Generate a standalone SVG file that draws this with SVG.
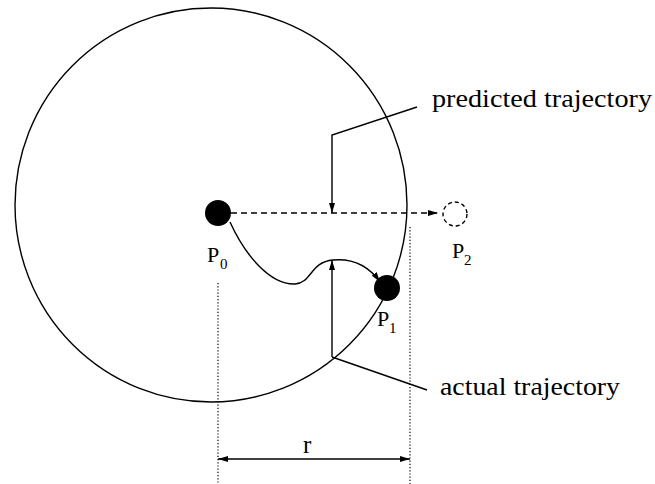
<svg xmlns="http://www.w3.org/2000/svg" width="655" height="484" viewBox="0 0 655 484">
<defs>
<marker id="ah" viewBox="0 0 10 6" refX="10" refY="3" markerWidth="10" markerHeight="6" markerUnits="userSpaceOnUse" orient="auto-start-reverse">
<path d="M0,0 L10,3 L0,6 Z" fill="#000"/>
</marker>
<style>
.ln{fill:none;stroke:#000;stroke-width:1.4}
.dash{fill:none;stroke:#000;stroke-width:1.4;stroke-dasharray:6,4}
.dot{fill:none;stroke:#000;stroke-width:1.2;stroke-dasharray:1.2,2}
text{font-family:'Liberation Serif','Times New Roman','DejaVu Serif',serif;fill:#000}
.t{font-size:25px}
.p{font-size:22px}
.s{font-size:15px}
</style>
</defs>
<rect width="655" height="484" fill="#fff"/>
<g id="region">
<ellipse cx="211" cy="205" rx="196" ry="197" class="ln"/>
</g>
<g id="connectors">
<line x1="231" y1="213" x2="438" y2="213" class="dash" marker-end="url(#ah)"/>
<path d="M230 222 C245 255 270 285 295 284 C312 283 310 262 333 260 C355 258 370 268 380 282" class="ln" marker-end="url(#ah)"/>
<polyline points="417,107 332,135 332,213" class="ln" marker-end="url(#ah)"/>
<line x1="332" y1="357" x2="332" y2="260" class="ln" marker-end="url(#ah)"/>
<line x1="332" y1="357" x2="427" y2="390" class="ln"/>
<line x1="218" y1="283" x2="218" y2="484" class="dot"/>
<line x1="410" y1="227" x2="410" y2="484" class="dot"/>
<line x1="218" y1="459" x2="410" y2="459" class="ln" marker-start="url(#ah)" marker-end="url(#ah)"/>
</g>
<g id="P0">
<circle cx="218" cy="213" r="13" fill="#000"/>
<text x="207" y="262" class="p" font-family="Liberation Serif, DejaVu Serif, serif">P</text><text x="220" y="269" class="s" font-family="Liberation Serif, DejaVu Serif, serif">0</text>
</g>
<g id="P1">
<circle cx="387" cy="288" r="13" fill="#000"/>
<text x="377" y="326" class="p" font-family="Liberation Serif, DejaVu Serif, serif">P</text><text x="389" y="333" class="s" font-family="Liberation Serif, DejaVu Serif, serif">1</text>
</g>
<g id="P2">
<circle cx="455" cy="214" r="12" fill="none" stroke="#000" stroke-width="1.4" stroke-dasharray="4,3"/>
<text x="452" y="258" class="p" font-family="Liberation Serif, DejaVu Serif, serif">P</text><text x="464" y="265" class="s" font-family="Liberation Serif, DejaVu Serif, serif">2</text>
</g>
<g id="labels">
<text x="432" y="107" class="t" font-family="Liberation Serif, DejaVu Serif, serif" textLength="220" lengthAdjust="spacingAndGlyphs">predicted trajectory</text>
<text x="440" y="395" class="t" font-family="Liberation Serif, DejaVu Serif, serif" textLength="180" lengthAdjust="spacingAndGlyphs">actual trajectory</text>
<text x="303" y="453" class="t" font-family="Liberation Serif, DejaVu Serif, serif">r</text>
</g>
</svg>
